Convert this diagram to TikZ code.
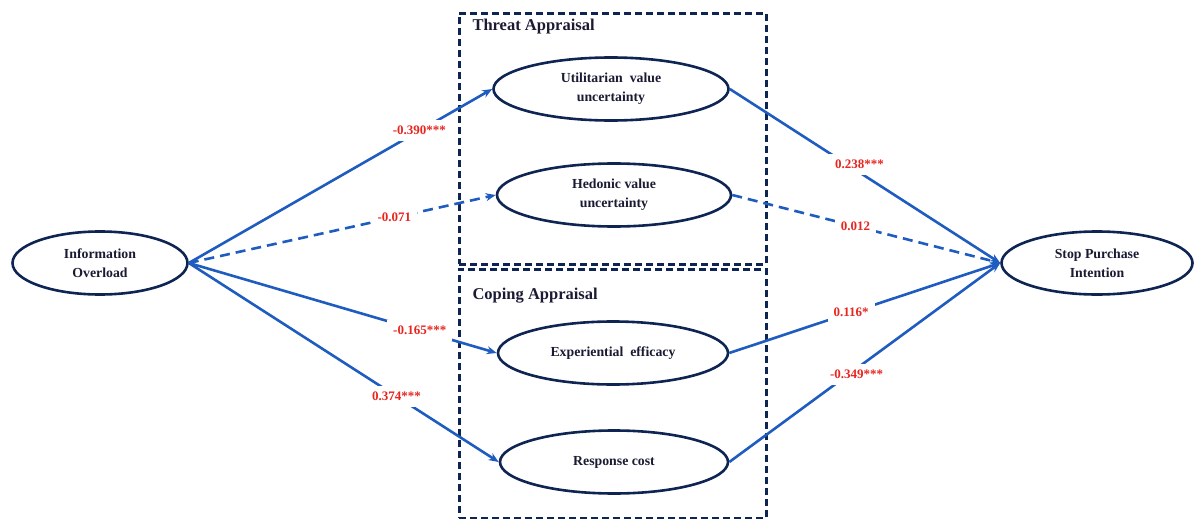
\documentclass[tikz,border=0pt]{standalone}
\usepackage{fontspec}
\setmainfont{Liberation Serif}
\usetikzlibrary{shapes.geometric,arrows.meta}
\definecolor{navy}{HTML}{0E2452}
\definecolor{linkblue}{HTML}{1E5CC0}
\definecolor{coefred}{HTML}{E8251F}
\definecolor{txt}{HTML}{1A1A33}
\begin{document}
\begin{tikzpicture}[x=1pt,y=-1pt,
  construct/.style={ellipse, draw=navy, line width=2.6pt, inner sep=0pt, align=center,
    minimum height=63pt, text=txt, font=\fontsize{13.8}{19}\selectfont\bfseries},
  link/.style={draw=linkblue, line width=2.6pt, -{Stealth[length=10pt,width=8pt]}},
  nslink/.style={link, dash pattern=on 10pt off 6pt},
  coef/.style={fill=white, text=coefred, inner sep=6pt, font=\fontsize{13}{14}\selectfont\bfseries},
  groupbox/.style={draw=navy, line width=2.6pt, dash pattern=on 7pt off 4pt, inner sep=0pt, anchor=north west},
  grouptitle/.style={anchor=base west, text=txt, font=\fontsize{16.5}{18}\selectfont\bfseries}]
\useasboundingbox (0,0) rectangle (1200,519);
% groups
\node[groupbox, minimum width=307pt, minimum height=251pt] (threat) at (458,12) {};
\node[groupbox, minimum width=307pt, minimum height=249pt] (coping) at (458,268) {};
\node[grouptitle] (threatlbl) at (469,31) {Threat Appraisal};
\node[grouptitle] (copinglbl) at (469,299) {Coping Appraisal};
% constructs
\node[construct, minimum width=175pt] (io) at (100,263) {Information\\Overload};
\node[construct, minimum width=235pt] (uvu) at (611,89) {Utilitarian~~value\\uncertainty};
\node[construct, minimum width=234pt] (hvu) at (614,195) {Hedonic value\\uncertainty};
\node[construct, minimum width=230pt] (ee) at (613,353) {Experiential~~efficacy};
\node[construct, minimum width=228pt] (rc) at (614,462) {Response cost};
\node[construct, minimum width=191pt] (spi) at (1097,263) {Stop Purchase\\Intention};
% paths
\draw[link] (io.east) -- node[coef, pos=.76] {-0.390***} (uvu.west);
\draw[nslink] (io.east) -- node[coef, pos=.67] {-0.071} (hvu.west);
\draw[link] (io.east) -- node[coef, pos=.75] {-0.165***} (ee.west);
\draw[link] (io.east) -- node[coef, pos=.67] {0.374***} (rc.west);
\draw[link] (uvu.east) -- node[coef, pos=.48, yshift=8pt] {0.238***} (spi.west);
\draw[nslink] (hvu.east) -- node[coef, pos=.46] {0.012} (spi.west);
\draw[link] (ee.east) -- node[coef, pos=.45] {0.116*} (spi.west);
\draw[link] (rc.east) -- node[coef, pos=.47, yshift=-6pt] {-0.349***} (spi.west);
\end{tikzpicture}
\end{document}
